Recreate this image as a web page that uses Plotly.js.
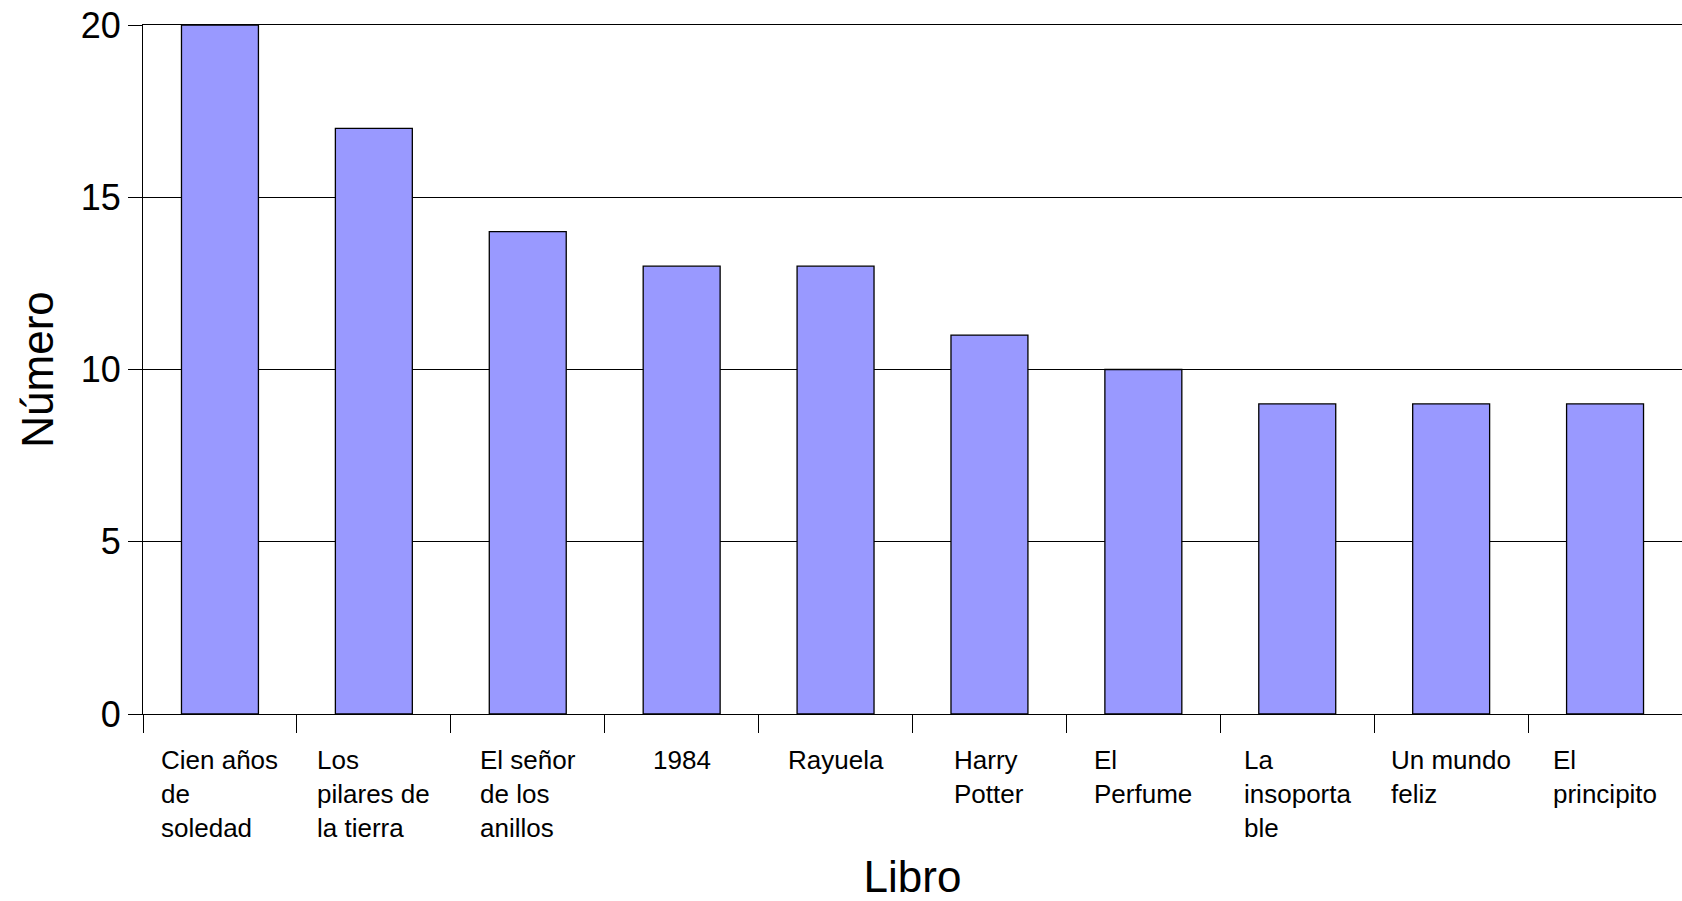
<!DOCTYPE html>
<html>
<head>
<meta charset="utf-8">
<script src="https://cdn.plot.ly/plotly-3.0.1.min.js"></script>
<style>
html, body { margin: 0; padding: 0; background: #ffffff; }
#chart { width: 1682px; height: 901px; }
</style>
</head>
<body>
<div id="chart"></div>
<script>
const categories = ["Cien años de soledad", "Los pilares de la tierra", "El señor de los anillos", "1984", "Rayuela", "Harry Potter", "El Perfume", "La insoportable", "Un mundo feliz", "El principito"];
const tickLabels = ["Cien años<br>de<br>soledad", "Los<br>pilares de<br>la tierra", "El señor<br>de los<br>anillos", "1984", "Rayuela", "Harry<br>Potter", "El<br>Perfume", "La<br>insoporta<br>ble", "Un mundo<br>feliz", "El<br>principito"];
const values = [20, 17, 14, 13, 13, 11, 10, 9, 9, 9];
const yTicks = [0, 5, 10, 15, 20];

const FONT = "Liberation Sans, Arial, sans-serif";

const trace = {
  type: "bar",
  x: categories,
  y: values,
  marker: { color: "#9999FF", line: { color: "#000000", width: 1.3 } },
  hoverinfo: "x+y"
};

const annotations = categories.map((c, i) => ({
  x: i, xref: "x",
  y: 0, yref: "paper",
  yanchor: "top", xanchor: "center",
  yshift: -29,
  align: "left",
  text: tickLabels[i],
  showarrow: false,
  font: { family: FONT, size: 26, color: "#000000" }
}));

const layout = {
  width: 1682, height: 901,
  margin: { l: 143, r: 0, t: 25, b: 187, pad: 0 },
  paper_bgcolor: "#ffffff",
  plot_bgcolor: "#ffffff",
  bargap: 0.5,
  showlegend: false,
  font: { family: FONT, color: "#000000" },
  xaxis: {
    type: "category",
    categoryorder: "array",
    categoryarray: categories,
    range: [-0.5, categories.length - 0.5],
    showticklabels: false,
    ticks: "outside",
    tickson: "boundaries",
    ticklen: 18,
    tickcolor: "#000000",
    tickwidth: 1,
    showline: true,
    mirror: true,
    linecolor: "#000000",
    linewidth: 1,
    showgrid: false,
    zeroline: false,
    automargin: false,
    title: { text: "Libro", font: { family: FONT, size: 44, color: "#000000" }, standoff: 150 }
  },
  yaxis: {
    range: [0, 20],
    tickvals: yTicks,
    ticktext: yTicks.map(String),
    ticks: "outside",
    ticklen: 14,
    tickcolor: "#000000",
    tickwidth: 1,
    tickfont: { family: FONT, size: 36, color: "#000000" },
    showline: true,
    linecolor: "#000000",
    linewidth: 1,
    showgrid: true,
    gridcolor: "#000000",
    gridwidth: 1,
    zeroline: false,
    automargin: false,
    title: { text: "Número", font: { family: FONT, size: 44, color: "#000000" }, standoff: 13 }
  },
  annotations: annotations
};

Plotly.newPlot("chart", [trace], layout, { displayModeBar: false, responsive: false });
</script>
</body>
</html>
